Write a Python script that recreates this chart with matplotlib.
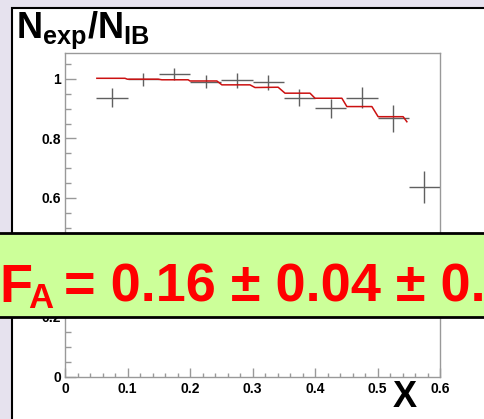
import matplotlib
matplotlib.use("Agg")
import matplotlib.pyplot as plt
from matplotlib.patches import Rectangle
from matplotlib.ticker import MultipleLocator, FormatStrFormatter

plt.rcParams['font.family'] = ['Liberation Sans', 'DejaVu Sans']
plt.rcParams['mathtext.fontset'] = 'custom'
plt.rcParams['mathtext.rm'] = 'Liberation Sans:bold'
plt.rcParams['mathtext.bf'] = 'Liberation Sans:bold'
plt.rcParams['mathtext.it'] = 'Liberation Sans:bold'

# measured ratio per x bin
x_centers = [0.075, 0.125, 0.175, 0.225, 0.275, 0.325, 0.375, 0.425, 0.475, 0.525, 0.575]
x_halfwidth = [0.025] * 11
ratio = [0.937, 0.999, 1.016, 0.991, 0.995, 0.989, 0.937, 0.901, 0.937, 0.868, 0.636]
ratio_err = [0.032, 0.022, 0.021, 0.021, 0.024, 0.025, 0.029, 0.031, 0.036, 0.045, 0.053]

# fitted curve vertices
fit_x = [0.051, 0.096, 0.0997, 0.149, 0.155, 0.197, 0.200, 0.243, 0.251, 0.296,
         0.304, 0.341, 0.352, 0.392, 0.400, 0.443, 0.451, 0.491, 0.501, 0.541, 0.547]
fit_y = [1.002, 1.002, 0.999, 0.999, 0.997, 0.997, 0.993, 0.993, 0.980, 0.980,
         0.971, 0.972, 0.952, 0.952, 0.935, 0.935, 0.907, 0.907, 0.873, 0.873, 0.856]

W, H = 484, 419
fig = plt.figure(figsize=(W / 100, H / 100), dpi=100, facecolor='#e6e2ee')

# white pad with black frame
fig.patches.append(Rectangle((12 / W, -0.1), 1.2, 1 - 8.5 / H + 0.1,
                             transform=fig.transFigure, facecolor='white',
                             edgecolor='black', linewidth=1.5, zorder=-1))

ax = fig.add_axes([65 / W, 42.5 / H, 375 / W, 323.5 / H])
ax.set_xlim(0, 0.6)
ax.set_ylim(0, 1.087)

ax.errorbar(x_centers, ratio, xerr=x_halfwidth, yerr=ratio_err, fmt='none',
            ecolor='#606060', elinewidth=1.0, capsize=0)
ax.plot(fit_x, fit_y, color='#cc1111', linewidth=1.1)

for s in ax.spines.values():
    s.set_color('#999999')
    s.set_linewidth(1.0)

ax.xaxis.set_major_locator(MultipleLocator(0.1))
ax.xaxis.set_minor_locator(MultipleLocator(0.02))
ax.yaxis.set_major_locator(MultipleLocator(0.2))
ax.yaxis.set_minor_locator(MultipleLocator(0.05))
ax.xaxis.set_major_formatter(FormatStrFormatter('%g'))
ax.yaxis.set_major_formatter(FormatStrFormatter('%g'))
ax.tick_params(axis='x', which='major', direction='in', length=6.5, width=1,
               color='#999999', pad=4, labelsize=10)
ax.tick_params(axis='x', which='minor', direction='in', length=3.2, width=1,
               color='#999999')
ax.tick_params(axis='y', which='major', direction='in', length=8, width=1,
               color='#999999', pad=3, labelsize=10)
ax.tick_params(axis='y', which='minor', direction='in', length=4, width=1,
               color='#999999')
for lab in ax.get_xticklabels() + ax.get_yticklabels():
    lab.set_fontweight('bold')

fig.text(0.033, (H - 38) / H, r'$\mathbf{N_{exp}/N_{IB}}$', fontsize=26,
         ha='left', va='baseline')
fig.text(393 / W, (H - 407) / H, 'X', fontsize=26, fontweight='bold',
         ha='left', va='baseline')

# result banner
fig.patches.append(Rectangle((-0.05, (H - 317) / H), 1.1, 84 / H,
                             transform=fig.transFigure, facecolor='#ccff99',
                             edgecolor='black', linewidth=2, zorder=5))
red = '#ff0000'
fig.text(-1 / W, (H - 302) / H, 'F', fontsize=39, fontweight='bold',
         color=red, ha='left', va='baseline', zorder=6)
fig.text(28 / W, (H - 308) / H, 'A', fontsize=25, fontweight='bold',
         color=red, ha='left', va='baseline', zorder=6)
fig.text(64 / W, (H - 302) / H, '= 0.16 ± 0.04 ± 0.06', fontsize=39,
         fontweight='bold', color=red, ha='left', va='baseline', zorder=6)

fig.savefig('out.png', dpi=100, facecolor=fig.get_facecolor())
